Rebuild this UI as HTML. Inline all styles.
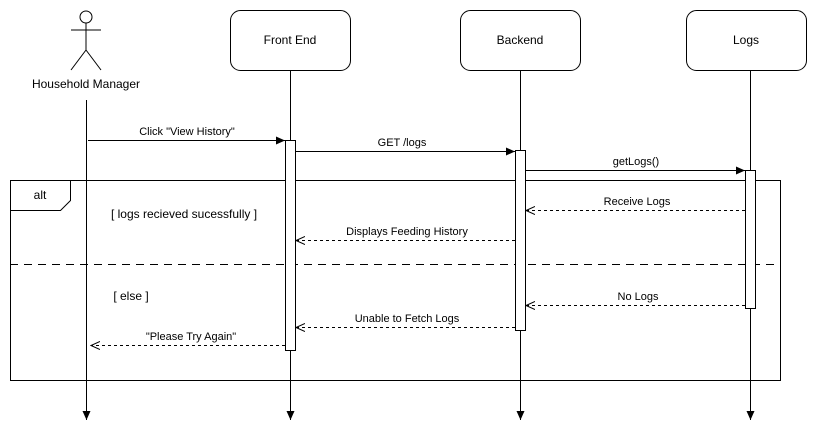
<!DOCTYPE html>
<html><head><style>body{margin:0;background:#fff}svg{display:block}text{font-family:"Liberation Sans",Arial,sans-serif;font-size:11px;fill:#000}</style></head>
<body>
<svg width="818" height="440" xmlns="http://www.w3.org/2000/svg">
<defs>
<marker id="f" markerWidth="10" markerHeight="10" refX="9" refY="5" orient="auto" markerUnits="userSpaceOnUse"><path d="M0,1 L9,5 L0,9 Z" fill="#000"/></marker>
<marker id="o" markerWidth="10" markerHeight="10" refX="9" refY="5" orient="auto" markerUnits="userSpaceOnUse"><path d="M0,1 L9,5 L0,9" fill="none" stroke="#000"/></marker>
</defs>
<g stroke="#000" fill="none" stroke-width="1">
<circle cx="86" cy="17" r="6" fill="#fff"/>
<line x1="86" y1="23" x2="86" y2="50"/><line x1="71" y1="30" x2="101" y2="30"/>
<line x1="86" y1="50" x2="71" y2="70"/><line x1="86" y1="50" x2="101" y2="70"/>
<rect x="230.5" y="10.5" width="120" height="60" rx="10"/>
<rect x="460.5" y="10.5" width="120" height="60" rx="10"/>
<rect x="686.5" y="10.5" width="120" height="60" rx="10"/>
<line x1="86.5" y1="100" x2="86.5" y2="420" marker-end="url(#f)"/>
<line x1="290.5" y1="70" x2="290.5" y2="420" marker-end="url(#f)"/>
<line x1="520.5" y1="70" x2="520.5" y2="420" marker-end="url(#f)"/>
<line x1="750.5" y1="70" x2="750.5" y2="420" marker-end="url(#f)"/>
<rect x="10.5" y="180.5" width="770" height="200"/>
<path d="M10.5,210.5 H60.5 L70.5,200.5 V180.5"/>
<line x1="10" y1="264.5" x2="780" y2="264.5" stroke-dasharray="8,6"/>
<rect x="285.5" y="140.5" width="10" height="210" fill="#fff"/>
<rect x="515.5" y="150.5" width="10" height="180" fill="#fff"/>
<rect x="745.5" y="170.5" width="10" height="138" fill="#fff"/>
<line x1="88" y1="140.5" x2="285" y2="140.5" marker-end="url(#f)"/>
<line x1="295" y1="151.5" x2="515" y2="151.5" marker-end="url(#f)"/>
<line x1="525" y1="170.5" x2="745" y2="170.5" marker-end="url(#f)"/>
<g stroke-dasharray="3,3">
<line x1="745" y1="210.5" x2="526" y2="210.5" marker-end="url(#o)"/>
<line x1="515" y1="240.5" x2="296" y2="240.5" marker-end="url(#o)"/>
<line x1="745" y1="305.5" x2="526" y2="305.5" marker-end="url(#o)"/>
<line x1="515" y1="327.5" x2="296" y2="327.5" marker-end="url(#o)"/>
<line x1="285" y1="345.5" x2="91" y2="345.5" marker-end="url(#o)"/>
</g>
</g>
<g text-anchor="middle">
<text x="290" y="44" style="font-size:12px">Front End</text>
<text x="520" y="44" style="font-size:12px">Backend</text>
<text x="746" y="44" style="font-size:12px">Logs</text>
<text x="86" y="88" style="font-size:12px">Household Manager</text>
<text x="187" y="135">Click "View History"</text>
<text x="402" y="146">GET /logs</text>
<text x="636" y="165">getLogs()</text>
<text x="637" y="205">Receive Logs</text>
<text x="407" y="235">Displays Feeding History</text>
<text x="638" y="300">No Logs</text>
<text x="407" y="322">Unable to Fetch Logs</text>
<text x="191" y="340">"Please Try Again"</text>
<text x="40" y="199" style="font-size:12px">alt</text>
<text x="184" y="218" style="font-size:12px">[ logs recieved sucessfully ]</text>
<text x="131" y="300" style="font-size:12px">[ else ]</text>
</g>
</svg>
</body></html>
